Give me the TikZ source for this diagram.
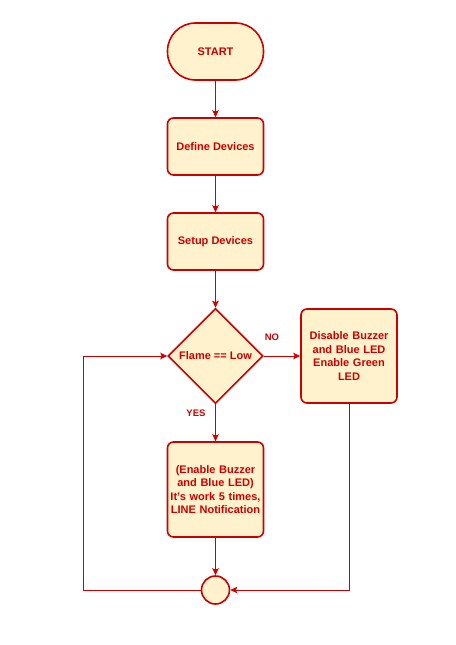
\documentclass[tikz,border=0pt]{standalone}
\usepackage{fontspec}
\setmainfont{Liberation Sans}
\usetikzlibrary{shapes.geometric,arrows.meta}
\definecolor{rd}{HTML}{CC0000}
\definecolor{fl}{HTML}{FFF2CC}
\begin{document}
\begin{tikzpicture}[x=1pt,y=-1pt,
  base/.style={draw=rd,fill=fl,line width=1.6pt,text=rd,font=\fontsize{11}{13.4}\selectfont\bfseries,align=center,inner sep=0pt},
  proc/.style={base,rounded corners=6pt,minimum width=96pt,minimum height=57pt},
  term/.style={base,rounded corners=28pt,minimum width=96pt,minimum height=57pt},
  dec/.style={base,diamond,aspect=1,minimum width=95pt,minimum height=95pt},
  conn/.style={draw=rd,line width=0.8pt,-{Stealth[length=7pt,width=6.5pt,inset=1.5pt]}},
  lbl/.style={text=rd,font=\fontsize{9.5}{11}\selectfont\bfseries}]
\useasboundingbox (0,0) rectangle (455,645);
\node[term] (start) at (215.5,51.5) {START};
\node[proc] (def) at (215.5,146.5) {Define Devices};
\node[proc] (setup) at (215.5,241.5) {Setup Devices};
\node[dec] (flame) at (215.5,356) {Flame == Low};
\node[proc,minimum height=94pt,text width=94pt] (dis) at (349,356) {Disable Buzzer\\and Blue LED\\Enable Green\\LED};
\node[proc,minimum height=95pt,text width=94pt] (en) at (215.5,489.5) {(Enable Buzzer\\and Blue LED)\\It's work 5 times,\\LINE Notification};
\node[base,circle,minimum size=28pt] (end) at (215.5,590) {};
\coordinate (ll) at (83,590);
\coordinate (lu) at (83,356);
\coordinate (rd1) at (349,590);
\draw[conn] (start) -- (def);
\draw[conn] (def) -- (setup);
\draw[conn] (setup) -- (flame);
\draw[conn] (flame) -- (dis);
\draw[conn] (flame) -- (en);
\draw[conn] (en) -- (end);
\draw[conn] (end.west) -- (ll) -- (lu) -- (flame.west);
\draw[conn] (dis.south) -- (rd1) -- (end.east);
\node[lbl] (no) at (272,337) {NO};
\node[lbl] (yes) at (196,413) {YES};
\end{tikzpicture}
\end{document}
